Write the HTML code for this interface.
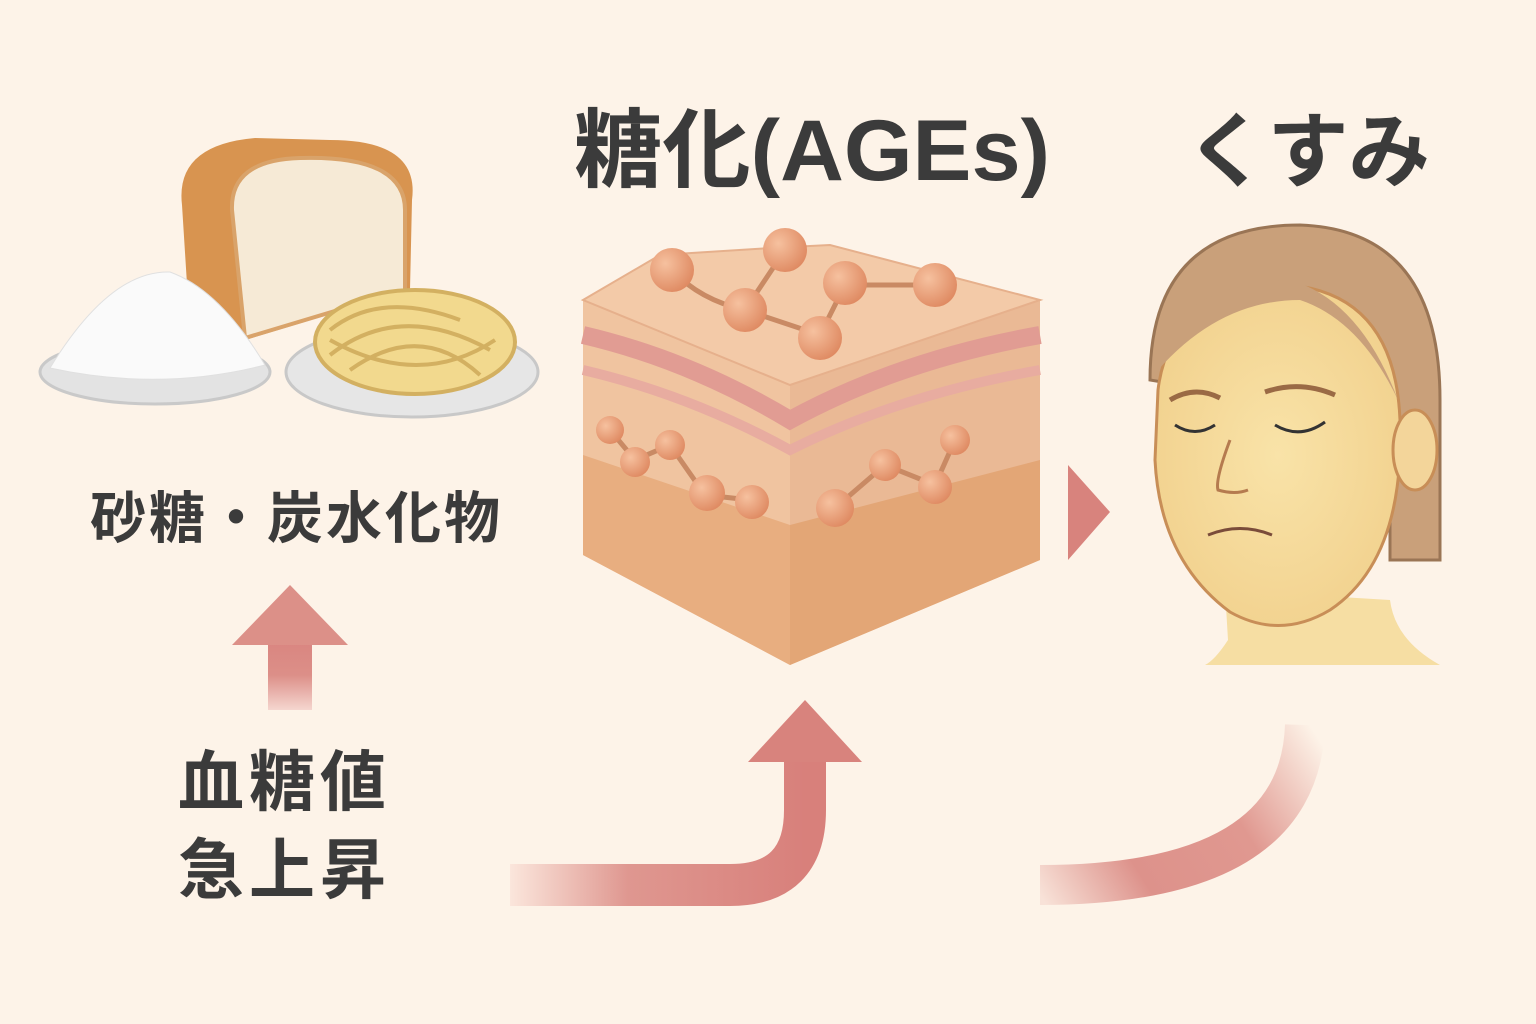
<!DOCTYPE html>
<html><head><meta charset="utf-8"><style>
html,body{margin:0;padding:0;background:#fdf3e8;}
svg{display:block}
text{font-family:"Liberation Sans","Noto Sans CJK JP",sans-serif;fill:#3b3b3b;font-weight:bold}
</style></head><body>
<svg width="1536" height="1024" viewBox="0 0 1536 1024" xmlns="http://www.w3.org/2000/svg">
<defs>
<linearGradient id="ga" x1="0" y1="1" x2="0" y2="0"><stop offset="0" stop-color="#f5d6cf"/><stop offset="0.5" stop-color="#dc8f88"/><stop offset="1" stop-color="#d98580"/></linearGradient>
<linearGradient id="gh" x1="0" y1="0" x2="1" y2="0"><stop offset="0" stop-color="#fbe6dc"/><stop offset="0.4" stop-color="#df9790"/><stop offset="1" stop-color="#d8807b"/></linearGradient>
<linearGradient id="gc" gradientUnits="userSpaceOnUse" x1="1310" y1="725" x2="1040" y2="895"><stop offset="0" stop-color="#fdf3e8"/><stop offset="0.35" stop-color="#e09890"/><stop offset="0.7" stop-color="#dd928b"/><stop offset="1" stop-color="#f8e2d8"/></linearGradient>
<radialGradient id="ball" cx="0.35" cy="0.35" r="0.7"><stop offset="0" stop-color="#f6c19f"/><stop offset="1" stop-color="#df8a62"/></radialGradient>
<radialGradient id="face" cx="0.5" cy="0.5" r="0.6"><stop offset="0" stop-color="#f9e3a8"/><stop offset="1" stop-color="#f1d08c"/></radialGradient>
</defs>
<rect width="1536" height="1024" fill="#fdf3e8"/>

<!-- food -->
<ellipse cx="155" cy="372" rx="115" ry="32" fill="#e3e3e3" stroke="#c9c9c9" stroke-width="3"/>
<path d="M182 205 Q175 145 255 138 L330 140 Q420 140 412 200 L410 290 L245 340 L188 300Z" fill="#d89450"/>
<path d="M232 210 Q230 160 300 158 Q405 155 405 210 L405 290 L245 338 Z" fill="#f6ead6" stroke="#d9a36a" stroke-width="4"/>
<path d="M50 368 Q110 270 170 272 Q220 290 265 365 Q160 392 50 368Z" fill="#fafafa" stroke="#e0e0e0"/>
<ellipse cx="412" cy="372" rx="126" ry="45" fill="#e6e6e6" stroke="#c8c8c8" stroke-width="3"/>
<ellipse cx="415" cy="342" rx="100" ry="52" fill="#f2d98e" stroke="#d3b061" stroke-width="4"/>
<path d="M330 330 Q380 290 460 320 M330 355 Q400 300 490 350 M350 370 Q420 320 480 375 M330 340 Q420 390 495 340" stroke="#d3b061" stroke-width="4" fill="none"/>

<text x="90" y="538" font-size="56" letter-spacing="3">砂糖・炭水化物</text>

<!-- up arrow -->
<rect x="268" y="640" width="44" height="70" fill="url(#ga)"/>
<polygon points="232,645 348,645 290,585" fill="#dc9088"/>

<text x="178" y="805" font-size="66" letter-spacing="5">血糖値</text>
<text x="178" y="893" font-size="66" letter-spacing="5">急上昇</text>

<!-- curved arrow -->
<path d="M510 885 L730 885 Q805 885 805 810 L805 755" stroke="url(#gh)" stroke-width="42" fill="none"/>
<polygon points="748,762 862,762 805,700" fill="#d8837d"/>

<!-- title -->
<text x="574" y="180" font-size="86" textLength="476" lengthAdjust="spacingAndGlyphs">糖化(AGEs)</text>
<text x="1186" y="180" font-size="82" textLength="244" lengthAdjust="spacingAndGlyphs">くすみ</text>

<!-- cube -->
<polygon points="583,300 790,385 790,665 583,555" fill="#f0c4a0"/>
<polygon points="790,385 1040,300 1040,560 790,665" fill="#eab995"/>
<polygon points="583,455 790,525 790,665 583,555" fill="#e8ae80"/>
<polygon points="790,525 1040,460 1040,560 790,665" fill="#e3a676"/>
<path d="M583 335 Q690 360 790 420 Q900 360 1040 335" stroke="#e19c93" stroke-width="18" fill="none"/>
<path d="M583 370 Q690 395 790 450 Q900 395 1040 370" stroke="#e8aca0" stroke-width="10" fill="none"/>
<polygon points="583,300 660,255 770,248 830,245 1040,300 790,385" fill="#f3caa8" stroke="#e6b08c" stroke-width="2"/>
<g stroke="#c98a64" stroke-width="5" fill="none">
<path d="M672 270 Q700 300 745 310 L785 250 M745 310 L820 335 L845 285 L930 285 M610 430 L635 460 L670 445 L705 495 L750 500 M835 508 L885 465 L935 485 L955 440"/>
</g>
<g fill="url(#ball)">
<circle cx="672" cy="270" r="22"/><circle cx="785" cy="250" r="22"/><circle cx="745" cy="310" r="22"/><circle cx="845" cy="283" r="22"/><circle cx="935" cy="285" r="22"/><circle cx="820" cy="338" r="22"/>
<circle cx="610" cy="430" r="14"/><circle cx="635" cy="462" r="15"/><circle cx="670" cy="445" r="15"/><circle cx="707" cy="493" r="18"/><circle cx="752" cy="502" r="17"/><circle cx="835" cy="508" r="19"/><circle cx="885" cy="465" r="16"/><circle cx="935" cy="487" r="17"/><circle cx="955" cy="440" r="15"/>
</g>

<!-- small arrow -->
<polygon points="1068,465 1068,560 1110,512" fill="#d8837d"/>

<!-- face -->
<path d="M1150 380 Q1150 225 1300 225 Q1440 230 1440 400 L1440 560 L1390 560 L1390 420 Z" fill="#c9a07a" stroke="#9a7555" stroke-width="3"/>
<path d="M1225 590 L1228 640 Q1215 660 1205 665 L1440 665 Q1395 640 1390 600 Z" fill="#f6dea3"/>
<path d="M1158 390 Q1170 290 1290 285 Q1395 295 1400 420 Q1405 560 1330 610 Q1280 640 1230 612 Q1160 560 1155 460Z" fill="url(#face)" stroke="#c88e57" stroke-width="3"/>
<path d="M1152 370 Q1170 285 1290 280 Q1360 300 1398 400 Q1360 320 1300 300 Q1220 300 1158 370Z" fill="#c9a07a"/>
<ellipse cx="1415" cy="450" rx="22" ry="40" fill="#f3d59a" stroke="#c88e57" stroke-width="3"/>
<path d="M1175 425 Q1195 438 1215 425 M1275 425 Q1300 440 1325 422" stroke="#333" stroke-width="3" fill="none"/>
<path d="M1170 400 Q1195 385 1220 398 M1265 392 Q1300 380 1335 395" stroke="#9a6a45" stroke-width="5" fill="none"/>
<path d="M1230 440 Q1215 480 1218 490 Q1235 495 1248 490" stroke="#b57b4f" stroke-width="3" fill="none"/>
<path d="M1208 535 Q1240 522 1272 535" stroke="#7a4c3a" stroke-width="3" fill="none"/>

<!-- lower curve -->
<path d="M1305 725 Q1300 885 1040 885" stroke="url(#gc)" stroke-width="40" fill="none"/>
</svg>
</body></html>
